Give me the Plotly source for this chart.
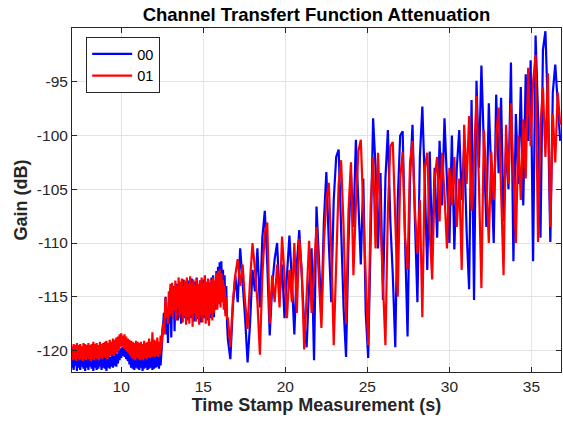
import numpy as np
import plotly.graph_objects as go

# ---- data ----
# Each series is stored in three uniformly sampled segments.
# segment A: 7.00 s .. 12.50 s every 0.05 s (quiet noisy band)
seg_a_start, seg_a_step = 7.0, 0.05
# segment B: 12.55 s .. 16.45 s every 0.05 s (noisy band after the step)
seg_b_start, seg_b_step = 12.55, 0.05
# segment C: 16.50 s .. 36.75 s every 0.15 s (fading peaks and dips)
seg_c_start, seg_c_step = 16.5, 0.15

gain00_a = [
    -121.6, -120.5, -121.8, -120.7, -121.4, -120.4, -121.9, -120.6, -121.6, -120.5,
    -121.8, -120.6, -121.5, -120.4, -121.7, -120.7, -121.9, -120.5, -121.6, -120.6,
    -121.8, -120.4, -121.5, -120.6, -121.7, -120.5, -121.9, -120.7, -121.6, -120.4,
    -121.8, -120.6, -121.7, -120.5, -121.5, -120.6, -121.8, -120.4, -121.6, -120.5,
    -121.7, -120.6, -121.9, -120.5, -121.6, -120.4, -121.7, -120.6, -121.5, -120.3,
    -121.6, -120.4, -121.4, -120.2, -121.5, -120.3, -121.2, -120.0,
    -120.9, -119.8, -120.7, -119.7, -120.5, -119.6, -120.6, -119.8, -120.8, -119.9,
    -121.0, -120.1,
    -121.3, -120.3, -121.6, -120.5, -121.7, -120.4, -121.8, -120.6, -121.6, -120.5,
    -121.7, -120.6, -121.8, -120.4, -121.6, -120.5, -121.9, -120.6, -121.7, -120.5,
    -121.6, -120.4, -121.8, -120.6, -121.7, -120.5, -121.6, -120.4, -121.8, -120.5,
    -121.7, -120.3, -121.6, -120.4, -121.5, -120.5, -121.7, -120.2, -121.4, -120.0,
    -119.2,
]
gain00_b = [
    -118.0, -116.5, -117.8, -115.0, -118.5, -116.0, -119.3, -115.5, -117.5, -114.2,
    -118.8, -114.5, -117.0, -114.0, -118.2, -114.8, -116.5, -113.8, -117.2, -114.3,
    -116.8, -113.6, -117.5, -114.0, -116.2, -113.4, -117.0, -114.2, -116.5, -113.8,
    -117.2, -113.5, -116.6, -114.1, -117.0, -113.3, -116.4, -113.9, -117.3, -113.6,
    -116.7, -113.2, -117.1, -114.0, -116.5, -113.5, -117.4, -113.8, -116.6, -113.4,
    -117.0, -113.1, -116.8, -113.9, -117.2, -113.4, -116.5, -113.7, -117.0, -113.2,
    -116.4, -113.0, -116.9, -113.6, -116.2, -112.6, -116.0, -112.2, -115.5, -111.8,
    -115.0, -111.7, -114.8, -112.5, -115.5, -113.0, -116.5, -114.0, -117.5,
]
gain00_c = [
    -119.0, -120.8, -116.0, -113.0,
    -115.5, -110.5, -113.5, -117.0, -121.1, -117.5, -112.5, -114.5, -110.5, -116.0,
    -109.5, -107.0, -112.0, -118.6, -114.0, -111.5, -110.0, -115.0, -112.0, -117.0,
    -113.0, -109.3, -113.5, -118.5, -112.0, -108.8, -113.0, -117.5, -119.7, -114.0,
    -110.5, -120.9, -106.6, -112.0, -116.5, -108.0, -103.4, -110.0, -115.5, -106.0,
    -102.0, -101.3, -109.0, -116.0, -120.6, -110.0, -103.5, -108.5, -100.4, -106.0,
    -112.0, -104.0, -116.5, -120.7, -108.0, -98.4, -103.0, -110.5, -103.5, -115.3,
    -104.0, -99.5, -108.0, -113.0, -119.7, -106.0, -100.0, -99.6, -110.0, -118.7,
    -104.0, -99.0, -108.0, -115.5, -102.0, -97.3, -104.5, -112.5, -101.5, -110.8,
    -103.0, -109.5, -100.5, -106.5, -98.4, -104.0, -110.0, -100.0, -110.6, -103.0,
    -99.5, -106.0, -101.0, -109.0, -114.3, -96.7, -115.3, -94.9, -103.0, -93.5,
    -102.0, -108.5, -97.0, -104.5, -110.0, -96.2, -103.5, -96.5, -108.0, -101.0,
    -105.0, -93.2, -111.7, -98.0, -104.5, -95.5, -106.5, -94.3, -100.5, -93.0,
    -111.7, -90.7, -98.0, -109.5, -92.0, -90.3, -97.5, -109.9, -96.0, -93.4,
    -97.5, -100.5,
]

gain01_a = [
    -119.6, -120.9, -119.4, -120.8, -119.5, -121.0, -119.3, -120.7, -119.5, -120.9,
    -119.4, -120.8, -119.6, -121.0, -119.3, -120.8, -119.4, -120.9, -119.5, -120.7,
    -119.3, -120.8, -119.5, -121.0, -119.4, -120.8, -119.2, -120.9, -119.4, -120.7,
    -119.3, -120.8, -119.5, -120.9, -119.2, -120.7, -119.4, -120.8, -119.3, -120.6,
    -119.2, -120.7, -119.1, -120.8, -119.3, -120.6, -119.0, -120.5, -119.2, -120.4,
    -118.9, -120.5, -119.0, -120.3, -118.8, -120.2, -118.7, -120.0,
    -118.5, -119.7, -118.4, -119.6, -118.6, -119.8, -118.5, -119.9, -118.7, -120.1,
    -118.9, -120.3,
    -119.0, -120.5, -119.1, -120.7, -119.2, -120.8, -119.3, -120.9, -119.1, -120.7,
    -119.2, -120.8, -119.3, -120.9, -119.2, -120.8, -119.4, -120.9, -119.1, -120.7,
    -119.3, -120.8, -119.2, -120.6, -118.9, -120.7, -119.2, -120.6, -118.3, -120.5,
    -119.0, -120.6, -119.1, -120.5, -118.8, -120.6, -119.2, -120.4, -118.6, -119.9,
    -118.0,
]
gain01_b = [
    -117.5, -118.5, -116.0, -115.1, -117.0, -116.0, -117.5, -114.5, -116.8, -113.8,
    -116.5, -113.7, -117.0, -114.2, -116.3, -113.5, -117.2, -113.9, -116.0, -113.2,
    -117.0, -113.6, -116.5, -113.3, -117.4, -114.0, -116.8, -113.5, -117.6, -113.2,
    -116.9, -113.8, -117.5, -113.1, -116.7, -113.7, -117.8, -113.4, -116.5, -113.9,
    -117.3, -113.3, -116.9, -113.8, -117.6, -113.5, -116.8, -113.2, -117.4, -113.7,
    -116.7, -113.0, -117.5, -113.6, -117.0, -113.3, -117.7, -113.8, -116.6, -113.4,
    -117.2, -113.2, -116.5, -113.5, -115.8, -112.8, -116.2, -112.6, -115.7, -112.5,
    -116.0, -112.8, -115.5, -113.4, -116.2, -114.0, -116.8, -115.0, -117.0,
]
gain01_c = [
    -117.0, -119.7, -115.5, -113.0,
    -111.5, -114.0, -112.0, -115.5, -118.0, -113.5, -110.0, -112.5, -115.5, -120.4,
    -113.0, -109.0, -108.1, -117.5, -113.0, -115.5, -112.0, -116.0, -109.4, -113.0,
    -117.0, -112.5, -115.5, -110.0, -116.5, -109.6, -112.5, -119.9, -114.5, -109.8,
    -116.5, -112.0, -108.5, -113.5, -117.9, -110.0, -106.0, -104.4, -110.5, -119.5,
    -112.0, -104.5, -102.3, -108.5, -117.5, -107.0, -102.5, -113.0, -106.5, -101.5,
    -100.4, -107.0, -114.0, -119.5, -106.5, -102.0, -110.5, -101.6, -108.0, -114.5,
    -119.5, -107.0, -101.0, -100.6, -108.5, -115.0, -104.0, -101.5, -109.5, -112.5,
    -102.5, -100.5, -107.0, -111.0, -106.0, -116.9, -103.0, -101.6, -109.0, -113.4,
    -104.0, -102.0, -108.0, -101.6, -105.5, -110.5, -103.0, -106.5, -102.0, -108.5,
    -104.0, -112.5, -99.0, -104.5, -98.2, -107.0, -102.0, -96.3, -104.5, -114.2,
    -99.5, -104.0, -110.0, -101.5, -106.0, -100.0, -97.4, -105.0, -113.0, -99.0,
    -104.5, -97.0, -103.0, -110.0, -100.0, -106.0, -98.5, -104.0, -93.7, -101.0,
    -95.0, -92.5, -109.9, -99.0, -95.5, -102.0, -94.2, -108.5, -98.0, -102.5,
    -96.0, -99.0,
]

x_ticks = [10, 15, 20, 25, 30, 35]
y_ticks = [-120, -115, -110, -105, -100, -95]
y_tick_labels = ["-120", "-115", "-110", "-105", "-100", "-95"]


def sample_times(start, step, values):
    return start + step * np.arange(len(values))


t00 = np.concatenate([sample_times(seg_a_start, seg_a_step, gain00_a),
                      sample_times(seg_b_start, seg_b_step, gain00_b),
                      sample_times(seg_c_start, seg_c_step, gain00_c)])
t01 = np.concatenate([sample_times(seg_a_start, seg_a_step, gain01_a),
                      sample_times(seg_b_start, seg_b_step, gain01_b),
                      sample_times(seg_c_start, seg_c_step, gain01_c)])
g00 = np.concatenate([gain00_a, gain00_b, gain00_c])
g01 = np.concatenate([gain01_a, gain01_b, gain01_c])

FONT = "Liberation Sans, Arial, Helvetica, sans-serif"
AX = "#262626"
GRID = "#e3e3e3"

fig = go.Figure()
fig.add_trace(go.Scatter(x=t00, y=g00, mode="lines", name="00",
                         line=dict(color="#0000ff", width=2.2)))
fig.add_trace(go.Scatter(x=t01, y=g01, mode="lines", name="01",
                         line=dict(color="#ff0000", width=2.2)))

axis_common = dict(showline=True, linecolor=AX, linewidth=1, mirror="ticks",
                   ticks="inside", ticklen=5, tickcolor=AX, automargin=False,
                   showgrid=True, gridcolor=GRID, gridwidth=1, zeroline=False,
                   tickfont=dict(family=FONT, size=15.5, color=AX))

fig.update_xaxes(range=[7.0, 36.8], tickvals=x_ticks,
                 title=dict(text="Time Stamp Measurement (s)", standoff=4,
                            font=dict(family=FONT, size=18, color=AX, weight="bold")),
                 **axis_common)
fig.update_yaxes(range=[-122, -90], tickvals=y_ticks, ticktext=y_tick_labels,
                 title=dict(text="Gain (dB)", standoff=4,
                            font=dict(family=FONT, size=18, color=AX, weight="bold")),
                 **axis_common)

fig.update_layout(
    width=563, height=428,
    margin=dict(l=72, r=2, t=28, b=56, autoexpand=False),
    paper_bgcolor="white", plot_bgcolor="white",
    title=dict(text="Channel Transfert Function Attenuation", xref="paper", x=0.5,
               xanchor="center", y=0.965, yanchor="middle",
               font=dict(family=FONT, size=18.5, color="black", weight="bold")),
    legend=dict(x=0.029, y=0.974, xanchor="left", yanchor="top",
                bgcolor="white", bordercolor=AX, borderwidth=1,
                font=dict(family=FONT, size=14.5, color="black"),
                itemwidth=40, tracegroupgap=0),
    showlegend=True,
)

fig.write_html("out.html", config={"displayModeBar": False},
               post_script="document.body.style.margin='0';document.body.style.padding='0';")
